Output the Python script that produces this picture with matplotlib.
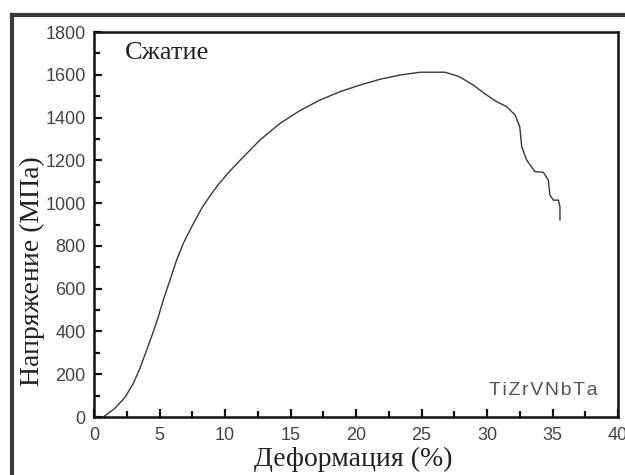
import matplotlib
matplotlib.use("Agg")
import matplotlib.pyplot as plt
from matplotlib.lines import Line2D
from matplotlib.ticker import MultipleLocator

# Кривая сжатия TiZrVNbTa: деформация (%) и напряжение (МПа)
deformacion = [0.71, 1.6, 2.37, 3.0, 3.51, 4.02, 4.53, 4.91, 5.29, 5.8,
               6.31, 6.82, 7.46, 8.22, 8.98, 9.6, 10.3, 11.15, 12.67, 14.2,
               15.73, 17.25, 18.78, 20.3, 21.83, 23.36, 24.9, 26.8, 27.9,
               28.95, 29.98, 30.74, 31.5, 32.14, 32.5, 32.65, 33.03, 33.66,
               34.3, 34.68, 34.8, 35.06, 35.45, 35.57, 35.57]
esfuerzo = [0, 41, 92, 157, 228, 313, 399, 469, 547, 640,
            734, 812, 890, 976, 1045, 1095, 1145, 1200, 1295, 1373,
            1433, 1482, 1521, 1552, 1579, 1599, 1612, 1612, 1591,
            1552, 1505, 1474, 1451, 1412, 1357, 1264, 1201, 1147,
            1144, 1108, 1038, 1014, 1014, 983, 921]

x_ticks = [0, 5, 10, 15, 20, 25, 30, 35, 40]
y_ticks = [0, 200, 400, 600, 800, 1000, 1200, 1400, 1600, 1800]

fig = plt.figure(figsize=(6.25, 4.75), dpi=100)
ax = fig.add_axes([0.1504, 0.1221, 0.8384, 0.8105])

# marco exterior (solo arriba e izquierda quedan dentro de la imagen)
fig.add_artist(Line2D([11.5 / 625, 1.0], [1 - 14.7 / 475, 1 - 14.7 / 475],
                      transform=fig.transFigure, color="#3a3a3a", lw=3))
fig.add_artist(Line2D([11.5 / 625, 11.5 / 625], [0, 1 - 14.7 / 475],
                      transform=fig.transFigure, color="#3a3a3a", lw=3))

ax.plot(deformacion, esfuerzo, color="#383838", lw=1.0)

ax.set_xlim(0, 40)
ax.set_ylim(0, 1800)
ax.set_xticks(x_ticks)
ax.set_yticks(y_ticks)
ax.xaxis.set_minor_locator(MultipleLocator(2.5))
ax.yaxis.set_minor_locator(MultipleLocator(100))
ax.tick_params(which="both", direction="in", top=False, right=False,
               width=1.6, color="#111111", labelcolor="#444444",
               labelsize=13, labelfontfamily="Liberation Sans")
ax.tick_params(which="major", length=6)
ax.tick_params(which="minor", length=4)
ax.tick_params(axis="x", which="major", pad=7)
ax.tick_params(axis="y", which="major", pad=6)

for s in ax.spines.values():
    s.set_linewidth(1.8)
    s.set_color("#111111")

ax.set_xlabel("Деформация (%)", fontsize=20, fontfamily="Liberation Serif",
              color="#222222")
ax.set_ylabel("Напряжение (МПа)", fontsize=20, fontfamily="Liberation Serif",
              color="#222222")
ax.xaxis.set_label_coords(0.494, -0.078)
ax.yaxis.set_label_coords(-0.093, 0.38)

ax.text(0.058, 0.975, "Сжатие", transform=ax.transAxes, fontsize=19,
        fontfamily="Liberation Serif", color="#222222", va="top", ha="left")
ax.text(0.962, 0.07, "\u200a".join("TiZrVNbTa"),
        transform=ax.transAxes, fontsize=14,
        fontfamily=["Liberation Sans", "DejaVu Sans"],
        color="#555555", va="center", ha="right")

fig.savefig("out.png", dpi=100)
